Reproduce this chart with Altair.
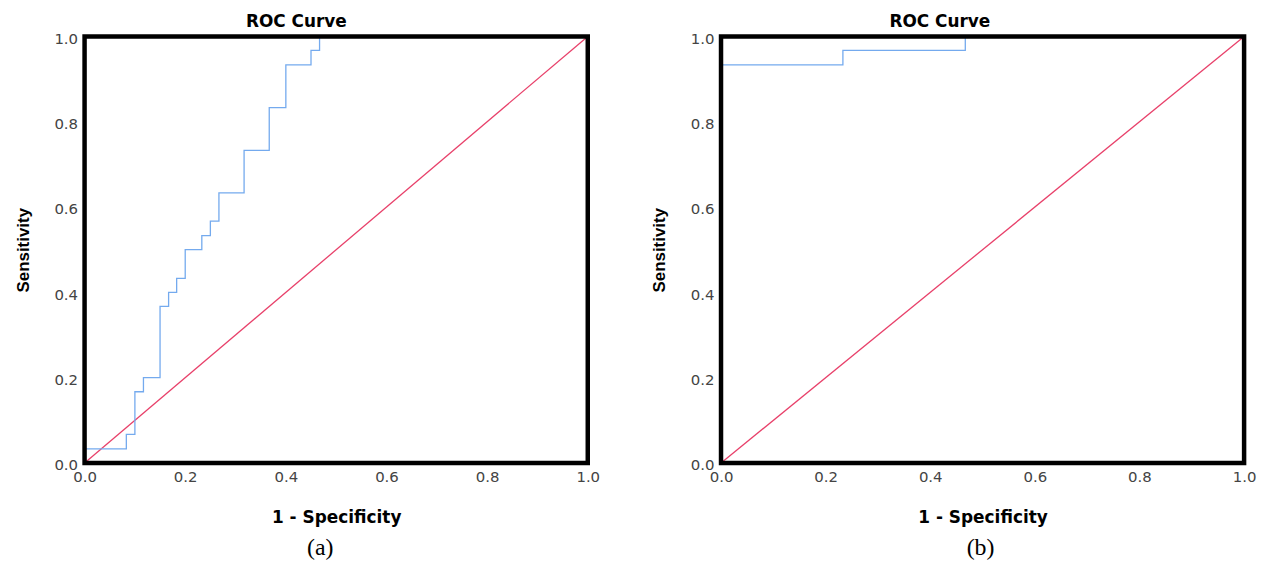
import altair as alt
import pandas as pd

# ROC curve (a): corner points of the step curve
fpr_a = [0.0, 0.0, 0.083, 0.1, 0.117, 0.15, 0.167, 0.183, 0.2, 0.233, 0.25, 0.267, 0.317, 0.367, 0.4, 0.45, 0.467, 1.0]
tpr_a = [0.0, 0.033, 0.067, 0.167, 0.2, 0.367, 0.4, 0.433, 0.5, 0.533, 0.567, 0.633, 0.733, 0.833, 0.933, 0.967, 1.0, 1.0]

# ROC curve (b)
fpr_b = [0.0, 0.0, 0.233, 0.467, 1.0]
tpr_b = [0.0, 0.933, 0.967, 1.0, 1.0]

# reference diagonal
ref_x = [0.0, 1.0]
ref_y = [0.0, 1.0]

tick_values = [0.0, 0.2, 0.4, 0.6, 0.8, 1.0]
captions = ["(a)", "(b)"]
title_text = "ROC Curve"
x_title = "1 - Specificity"
y_title = "Sensitivity"

HFONT = "DejaVu Sans"
VFONT = "Liberation Sans"
BLUE = "#74aaee"
RED = "#e8406a"


def panel(fpr, tpr, caption, w, h, dx, cap_dx):
    curve = pd.DataFrame({"fpr": fpr, "tpr": tpr, "idx": list(range(len(fpr)))})
    diag = pd.DataFrame({"fpr": ref_x, "tpr": ref_y})
    xs = alt.Scale(domain=[0, 1], nice=False)
    ys = alt.Scale(domain=[0, 1], nice=False)
    common = dict(values=tick_values, format=".1f", domain=False, ticks=False, tickSize=0,
                  grid=False, labelFontSize=15, labelColor="#444444", labelFont=HFONT,
                  titleFontSize=17, titleFontWeight="bold", titleColor="black",
                  labelFlush=False)
    xaxis = alt.Axis(title=x_title, titleFont=HFONT, labelPadding=7, titlePadding=25, **common)
    yaxis = alt.Axis(title=y_title, titleFont=VFONT, labelPadding=7, titlePadding=22,
                     labelOffset=2, **common)

    diag_l = alt.Chart(diag).mark_line(color=RED, strokeWidth=1.3).encode(
        x=alt.X("fpr:Q", scale=xs, axis=xaxis),
        y=alt.Y("tpr:Q", scale=ys, axis=yaxis),
    )
    curve_l = alt.Chart(curve).mark_line(color=BLUE, strokeWidth=1.3, interpolate="step-after").encode(
        x="fpr:Q", y="tpr:Q", order="idx:Q"
    )
    frame = alt.Chart(pd.DataFrame({"k": [0]})).mark_rect(
        fill="transparent", stroke="black", strokeWidth=4.5
    ).encode(x=alt.value(0), x2=alt.value(w), y=alt.value(0), y2=alt.value(h))
    cap = alt.Chart(pd.DataFrame({"t": [caption]})).mark_text(
        font="Liberation Serif", fontSize=24, baseline="middle", align="center", color="black"
    ).encode(x=alt.value(w / 2 + cap_dx), y=alt.value(h + 86), text="t:N")
    return alt.layer(diag_l, curve_l, frame, cap).properties(
        width=w, height=h,
        title=alt.TitleParams(text=title_text, fontSize=17, fontWeight="bold", font=HFONT,
                              anchor="middle", frame="group", dx=dx, offset=0, color="black"),
    )


left = panel(fpr_a, tpr_a, captions[0], 506, 429, -40, -16)
right = panel(fpr_b, tpr_b, captions[1], 526, 429, -43, -2)

chart = alt.hconcat(left, right, spacing=49).configure_view(
    stroke="transparent"
).properties(padding={"left": 5, "top": 3, "right": 5, "bottom": 0})

chart.save("out.html", embed_options={"renderer": "svg", "actions": False})
